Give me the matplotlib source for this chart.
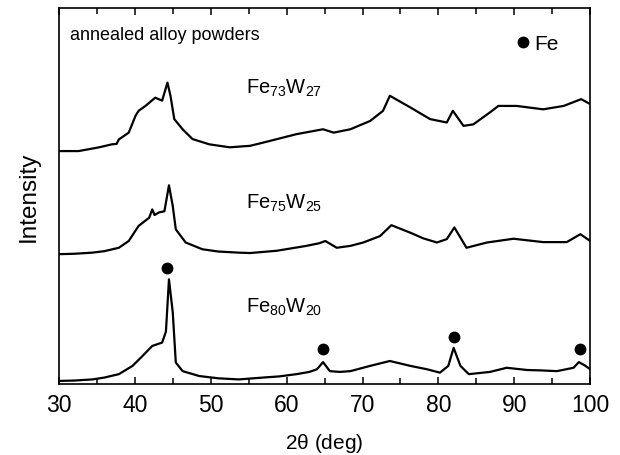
import numpy as np
import matplotlib
matplotlib.use("Agg")
import matplotlib.pyplot as plt
from matplotlib.ticker import MultipleLocator

plt.rcParams['font.family'] = ['Liberation Sans', 'DejaVu Sans']
plt.rcParams['mathtext.default'] = 'regular'

# 2theta positions and intensities (arbitrary units, stacked)
tt_80 = [30, 32, 34.4, 36, 37.9, 39.7, 41.0, 42.3, 43.6, 44.1, 44.5, 45.0, 45.4, 46.3, 48.5, 51, 53.7,
         56.9, 59, 61.3, 63, 64.0, 64.8, 65.7, 67, 68.4, 71.0, 73.6, 76.3, 78.5, 80.2, 81.3, 82.0, 82.9,
         84.0, 86.8, 89.0, 91.7, 93.5, 95.6, 97.8, 98.5, 99.3, 100]
i_80 = [0.9, 1.0, 1.3, 1.8, 2.7, 4.9, 7.5, 10.2, 11.1, 14.0, 27.9, 19.1, 5.8, 3.5, 2.2, 1.6, 1.3,
        1.8, 2.1, 2.7, 3.3, 4.0, 5.9, 3.5, 3.3, 3.5, 4.9, 6.2, 4.9, 4.0, 3.1, 4.9, 9.7, 4.9,
        2.7, 3.3, 4.4, 3.8, 3.7, 3.5, 4.4, 5.9, 5.0, 4.0]

tt_75 = [30, 32, 34.4, 36, 37.9, 39.2, 40.5, 41.9, 42.3, 42.6, 43.2, 43.9, 44.5, 45.0, 45.4, 46.7, 48.9, 51, 53.7,
         55.2, 58.7, 62.6, 64.3, 65.1, 66.6, 68.4, 70.1, 72.3, 73.8, 76.3, 78, 79.8, 81.1, 82.1, 83.7,
         86.4, 89.9, 93.8, 96.9, 98.7, 100]
i_75 = [34.6, 34.7, 35.0, 35.4, 36.3, 38.1, 42.1, 44.3, 46.5, 45.0, 45.7, 46.0, 52.9, 47.4, 41.2, 37.7, 35.9, 35.3, 35.0,
        34.9, 35.5, 36.8, 37.5, 38.1, 36.3, 36.8, 37.7, 39.4, 42.3, 40.3, 38.8, 37.7, 38.6, 41.7, 36.3,
        37.7, 38.7, 37.8, 37.8, 39.9, 38.1]

tt_73 = [30, 32.6, 35.3, 37.0, 37.6, 37.9, 39.2, 40.1, 40.5, 41.4, 42.7, 43.6, 44.3, 44.7, 45.2, 46.3, 47.6, 49.8,
         52.5, 55.2, 57.8, 61.3, 64.8, 66.2, 68.4, 71.0, 72.7, 73.6, 76.3, 78.9, 81.1, 81.9, 83.3, 84.6,
         86.8, 87.9, 90.3, 93.8, 96.5, 98.8, 100]
i_73 = [62.0, 62.0, 63.0, 63.8, 63.9, 65.1, 66.9, 71.4, 72.7, 74.0, 76.2, 75.4, 80.2, 76.7, 70.5, 67.8, 65.2, 63.8,
        63.0, 63.4, 64.7, 66.5, 67.8, 66.9, 67.8, 70.0, 72.7, 76.7, 73.6, 70.5, 69.6, 72.7, 68.7, 69.1,
        72.3, 74.0, 74.0, 73.1, 74.0, 75.8, 74.5]

fe_tt = [44.3, 64.8, 82.0, 98.7]
fe_i = [30.9, 9.5, 12.6, 9.3]

labels = [r'Fe$_{73}$W$_{27}$', r'Fe$_{75}$W$_{25}$', r'Fe$_{80}$W$_{20}$']
label_x = [54.7, 54.7, 54.7]
label_y = [79.0, 48.4, 20.8]

fig = plt.figure(figsize=(6.2, 4.56), dpi=100)
ax = fig.add_axes([0.095, 0.155, 0.857, 0.825])

for tt, ii in [(tt_73, i_73), (tt_75, i_75), (tt_80, i_80)]:
    ax.plot(tt, ii, color='black', lw=1.6, solid_joinstyle='round')

ax.plot(fe_tt, fe_i, 'o', color='black', ms=7.5)
ax.plot([91.2], [91], 'o', color='black', ms=7.5)
ax.text(92.6, 90.6, 'Fe', fontsize=15, va='center', ha='left')

for lab, lx, ly in zip(labels, label_x, label_y):
    ax.text(lx, ly, lab, fontsize=14.5, va='center', ha='left')

ax.text(31.5, 93, 'annealed alloy powders', fontsize=13, va='center', ha='left')

ax.set_xlim(30, 100)
ax.set_ylim(0, 100)
ax.xaxis.set_major_locator(MultipleLocator(10))
ax.xaxis.set_minor_locator(MultipleLocator(5))
ax.set_yticks([])
ax.tick_params(axis='x', which='both', direction='in', top=True, labelsize=16.5, pad=6)
ax.tick_params(axis='x', which='major', length=5, width=1.1)
ax.tick_params(axis='x', which='minor', length=4, width=1.1)
for s in ax.spines.values():
    s.set_linewidth(1.2)

ax.set_xlabel(r'2$\theta$ (deg)', fontsize=15, labelpad=11)
ax.set_ylabel('Intensity', fontsize=17.5, labelpad=14)

fig.savefig('out.png', dpi=100)
